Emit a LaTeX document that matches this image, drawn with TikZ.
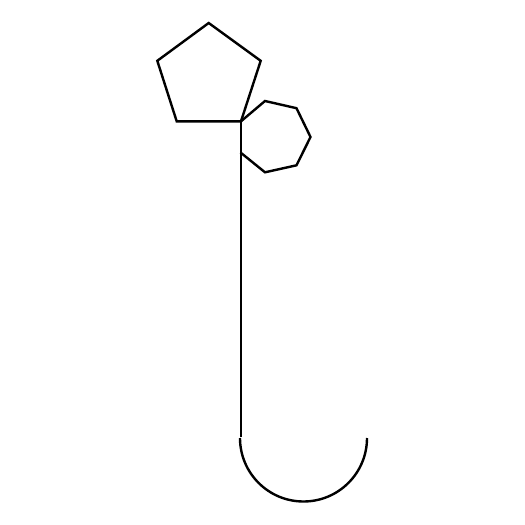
\documentclass[tikz,border=0pt]{standalone}
\begin{document}
\begin{tikzpicture}[x=1pt,y=-1pt,line width=2.4pt,line join=miter,
  stroke/.style={draw=black}]
\useasboundingbox (0,0) rectangle (525,525);
% pentagon
\coordinate (p1) at (208.7,23);
\coordinate (p2) at (260.7,60.8);
\coordinate (p3) at (241,121.3);
\coordinate (p4) at (176.7,121.3);
\coordinate (p5) at (157.3,60.8);
\draw[stroke] (p1) -- (p2) -- (p3) -- (p4) -- (p5) -- cycle;
% heptagon (open on its left side, which lies on the stem)
\coordinate (h2) at (265,101);
\coordinate (h3) at (296.5,108.2);
\coordinate (h4) at (310.5,137);
\coordinate (h5) at (296.5,165.3);
\coordinate (h6) at (265,172.3);
\coordinate (h7) at (240.5,152.5);
\draw[stroke] (p3) -- (h2) -- (h3) -- (h4) -- (h5) -- (h6) -- (h7);
% stem
\coordinate (s1) at (241,437);
\draw[stroke] (p3) -- (s1);
% hook
\coordinate (a1) at (240,438);
\draw[stroke] (a1) arc[start angle=180,end angle=0,radius=63.5];
\end{tikzpicture}
\end{document}
